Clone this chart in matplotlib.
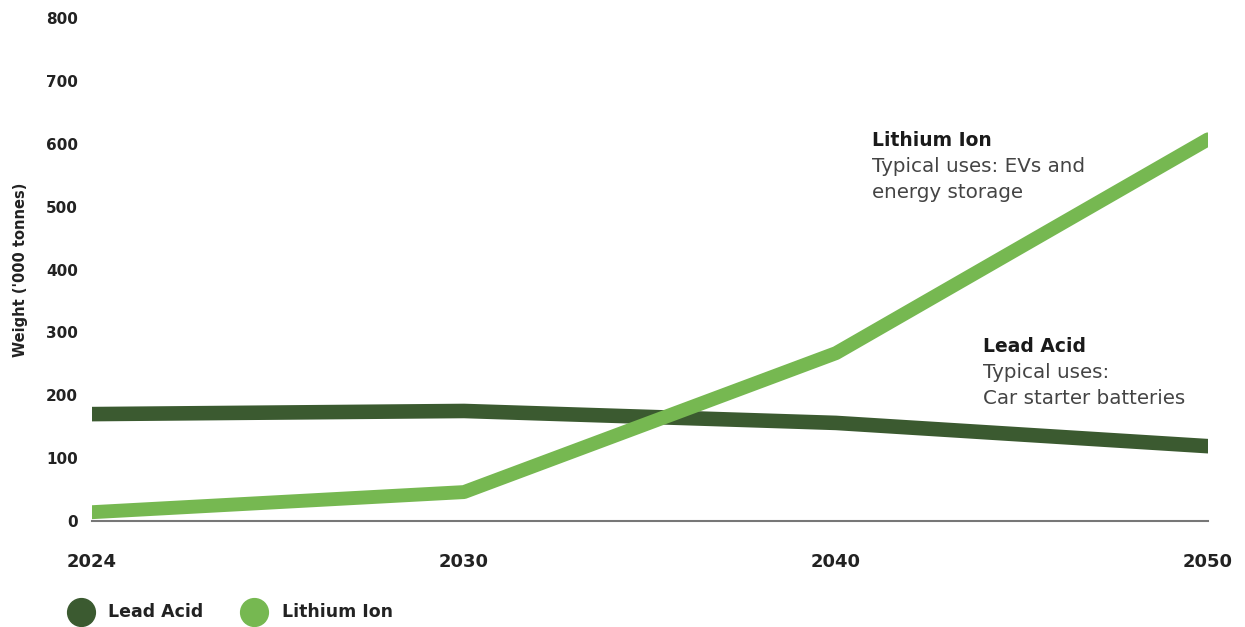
import matplotlib.pyplot as plt
from matplotlib.lines import Line2D

years = ['2024', '2030', '2040', '2050']
lead_acid = [170, 175, 156, 119]
lithium_ion = [14, 46, 267, 607]
y_ticks = [0, 100, 200, 300, 400, 500, 600, 700, 800]

dark = '#3b5a30'
light = '#76b851'

plt.rcParams['font.family'] = ['DejaVu Sans']

fig = plt.figure(figsize=(12.45, 6.27), dpi=100)
ax = fig.add_axes([92/1245, 1-521/627, (1208-92)/1245, (521-18)/627])

x = list(range(len(years)))
ax.plot(x, lead_acid, color=dark, lw=10.5, solid_capstyle='round', solid_joinstyle='round', zorder=3)
ax.plot(x, lithium_ion, color=light, lw=10, solid_capstyle='round', solid_joinstyle='round', zorder=4)

ax.set_xlim(0, 3)
ax.set_ylim(0, 800)
ax.set_yticks(y_ticks)
ax.set_yticklabels([str(v) for v in y_ticks], fontsize=11, fontweight='bold', color='#222222')
ax.set_xticks(x)
ax.set_xticklabels(years, fontsize=13, fontweight='bold', color='#222222')
ax.tick_params(axis='both', length=0)
ax.tick_params(axis='y', pad=10)
ax.tick_params(axis='x', pad=23)
for s in ['top', 'right', 'left']:
    ax.spines[s].set_visible(False)
ax.spines['bottom'].set_color('#777777')
ax.spines['bottom'].set_linewidth(1.5)
ax.spines['bottom'].set_zorder(1)
ax.set_ylabel("Weight ('000 tonnes)", fontsize=10.5, fontweight='bold', color='#222222', labelpad=13)

# annotations
def note(xp, ypx, title, lines):
    fig.text(xp/1245, 1-ypx/627, title, fontsize=13.5, fontweight='bold', color='#1a1a1a', va='center')
    for i, t in enumerate(lines):
        fig.text(xp/1245, 1-(ypx+26+27*i)/627, t, fontsize=14.3, color='#444444', va='center')

note(872, 140, 'Lithium Ion', ['Typical uses: EVs and', 'energy storage'])
note(983, 346, 'Lead Acid', ['Typical uses:', 'Car starter batteries'])

# legend
ly = 1 - 612/627
fig.add_artist(Line2D([81/1245], [ly], marker='o', ms=20, color=dark, ls='none', transform=fig.transFigure))
fig.text(108/1245, ly, 'Lead Acid', fontsize=12.5, fontweight='bold', color='#222222', va='center')
fig.add_artist(Line2D([254/1245], [ly], marker='o', ms=20, color=light, ls='none', transform=fig.transFigure))
fig.text(282/1245, ly, 'Lithium Ion', fontsize=12.5, fontweight='bold', color='#222222', va='center')

fig.savefig('out.png', dpi=100, facecolor='white')
